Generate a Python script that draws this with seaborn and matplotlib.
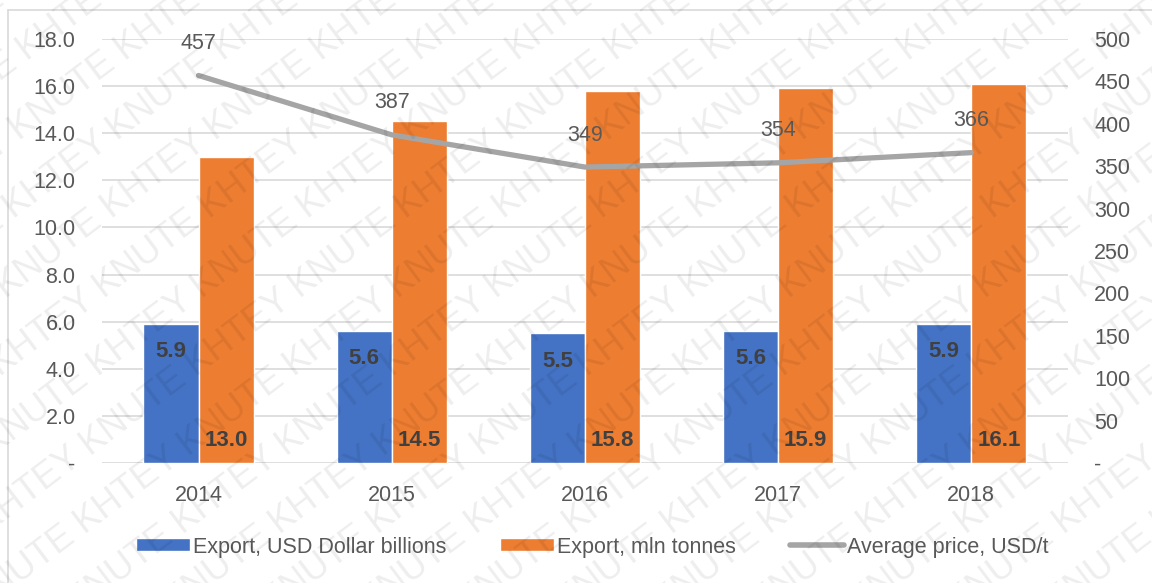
import numpy as np
import pandas as pd
import matplotlib
matplotlib.use("Agg")
import matplotlib.pyplot as plt
import seaborn as sns
from matplotlib.patches import Patch
from matplotlib.lines import Line2D

# --- DATA ---
years = ["2014", "2015", "2016", "2017", "2018"]
export_usd = [5.9, 5.6, 5.5, 5.6, 5.9]
export_tonnes = [13.0, 14.5, 15.8, 15.9, 16.1]
avg_price = [457, 387, 349, 354, 366]
series_names = ["Export, USD Dollar billions", "Export, mln tonnes", "Average price, USD/t"]
left_ticks = [0, 2, 4, 6, 8, 10, 12, 14, 16, 18]
right_ticks = [0, 50, 100, 150, 200, 250, 300, 350, 400, 450, 500]
watermark = "KNUTE KHTEY "

# --- STYLE ---
BLUE = "#4472C4"
ORANGE = "#ED7D31"
GRAY = "#A5A5A5"
TXT = "#595959"
LBL = "#404040"

sns.set_theme(style="white")
plt.rcParams['font.family'] = ['Liberation Sans', 'DejaVu Sans']

df = pd.DataFrame({
    "year": years * 2,
    "value": export_usd + export_tonnes,
    "series": [series_names[0]] * len(years) + [series_names[1]] * len(years),
})

fig = plt.figure(figsize=(11.52, 5.83), dpi=100)
ax = fig.add_axes([0.0885, 0.2058, 0.8385, 0.7273])

sns.barplot(data=df, x="year", y="value", hue="series", palette=[BLUE, ORANGE],
            width=0.57, gap=0, saturation=1, legend=False, ax=ax, zorder=2)

# labels: blue -> inside end, orange -> inside base
for bar in ax.containers[0]:
    ax.annotate(f"{bar.get_height():.1f}", (bar.get_x() + bar.get_width() / 2, bar.get_height()),
                xytext=(0, -20), textcoords="offset points", ha="center", va="center",
                fontsize=16, fontweight="bold", color=LBL)
for bar in ax.containers[1]:
    ax.annotate(f"{bar.get_height():.1f}", (bar.get_x() + bar.get_width() / 2, 0),
                xytext=(0, 16), textcoords="offset points", ha="center", va="center",
                fontsize=16, fontweight="bold", color=LBL)

ax.set_ylim(0, 18)
ax.set_yticks(left_ticks)
ax.set_yticklabels(["-"] + [f"{t:.1f}" for t in left_ticks[1:]])
ax.yaxis.grid(True, color="#D9D9D9", linewidth=1.2, zorder=0)
ax.set_axisbelow(True)
ax.set_xlabel("")
ax.set_ylabel("")

# line on secondary axis
ax2 = ax.twinx()
xpos = np.arange(len(years))
sns.lineplot(x=xpos, y=avg_price, ax=ax2, color=GRAY, linewidth=3.8, zorder=3)
for xi, p in zip(xpos, avg_price):
    ax2.annotate(f"{p}", (xi, p), xytext=(0, 23), textcoords="offset points",
                 ha="center", va="center", fontsize=15.5, color=TXT)
ax2.set_ylim(0, 500)
ax2.set_yticks(right_ticks)
ax2.set_yticklabels(["-"] + [str(t) for t in right_ticks[1:]])
ax2.set_xlim(-0.5, len(years) - 0.5)
ax.set_xlim(-0.5, len(years) - 0.5)

for a in (ax, ax2):
    for s in a.spines.values():
        s.set_visible(False)
    a.tick_params(length=0, labelsize=15.5, labelcolor=TXT)
ax.tick_params(axis="y", pad=19)
ax.tick_params(axis="x", pad=16)
ax2.tick_params(axis="y", pad=19)

# legend
handles = [Patch(facecolor=BLUE), Patch(facecolor=ORANGE), Line2D([], [], color=GRAY, linewidth=4)]
fig.legend(handles, series_names, loc="center", bbox_to_anchor=(0.514, 1 - 547 / 583), ncol=3,
           frameon=False, fontsize=15.5, labelcolor=TXT, handlelength=2.5, handleheight=0.55,
           handletextpad=0.15, columnspacing=2.5)

# chart frame (left / top edges)
fig.add_artist(Line2D([8 / 1152, 8 / 1152], [0, 1 - 10 / 583], color="#D9D9D9", linewidth=1.2,
                      transform=fig.transFigure))
fig.add_artist(Line2D([8 / 1152, 1], [1 - 10 / 583, 1 - 10 / 583], color="#D9D9D9", linewidth=1.2,
                      transform=fig.transFigure))

# watermark
for k in range(-10, 22):
    fig.text(k * 0.085, 0.5, watermark * 8, rotation=37, rotation_mode="anchor",
             ha="center", va="center", fontsize=26, color="black", alpha=0.07, zorder=10)

fig.savefig("out.png", dpi=100)
